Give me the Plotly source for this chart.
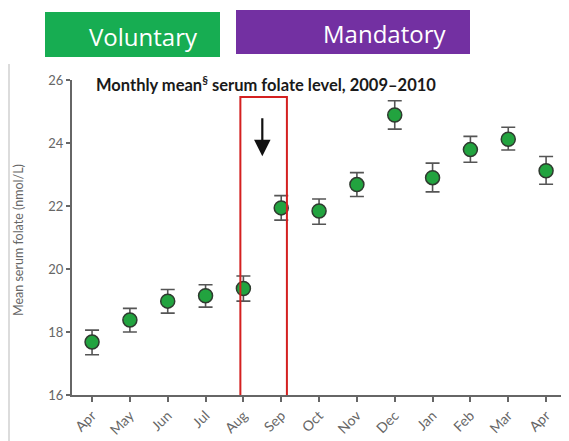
import plotly.graph_objects as go

months = ["Apr", "May", "Jun", "Jul", "Aug", "Sep", "Oct", "Nov", "Dec", "Jan", "Feb", "Mar", "Apr"]
mean_folate = [17.68, 18.38, 18.98, 19.15, 19.38, 21.94, 21.84, 22.68, 24.89, 22.90, 23.79, 24.12, 23.12]
err_upper = [0.38, 0.37, 0.37, 0.35, 0.40, 0.39, 0.38, 0.38, 0.45, 0.46, 0.42, 0.38, 0.45]
err_lower = [0.40, 0.38, 0.38, 0.36, 0.40, 0.39, 0.42, 0.38, 0.45, 0.45, 0.40, 0.34, 0.43]
y_ticks = [16, 18, 20, 22, 24, 26]
phase_labels = ["Voluntary", "Mandatory"]

x_idx = list(range(len(months)))

# page body has an 8px margin, so the figure is drawn at (8, 8)
OFF = 8
W, H = 569 - OFF, 441 - OFF
ML, MR, MT, MB = 72 - OFF, 4, 80 - OFF, 46
PW, PH = W - ML - MR, H - MT - MB


def px(x):
    # x given in reference-screen pixels
    return (x - OFF - ML) / PW


def py(y):
    return (H - MB - (y - OFF)) / PH


fig = go.Figure()
fig.add_trace(go.Scatter(
    x=x_idx, y=mean_folate, mode="markers",
    marker=dict(size=14, color="#22a33f", line=dict(color="#2f3a2f", width=1.5)),
    error_y=dict(type="data", symmetric=False, array=err_upper, arrayminus=err_lower,
                 color="#555555", thickness=1.6, width=7),
    showlegend=False, hoverinfo="skip",
))

shapes = [
    dict(type="rect", xref="x", yref="y", x0=3.92, x1=5.15, y0=15.95, y1=25.46,
         line=dict(color="#d42020", width=2), fillcolor="rgba(0,0,0,0)"),
    dict(type="rect", xref="paper", yref="paper", x0=px(45), x1=px(220), y0=py(57), y1=py(12),
         line=dict(width=0), fillcolor="#17ad52", layer="above"),
    dict(type="rect", xref="paper", yref="paper", x0=px(236), x1=px(470), y0=py(54), y1=py(10),
         line=dict(width=0), fillcolor="#7330a2", layer="above"),
    dict(type="line", xref="paper", yref="paper", x0=px(9), x1=px(9), y0=py(441), y1=py(64),
         line=dict(color="#d0d0d0", width=1.5)),
]

annotations = [
    dict(text=phase_labels[0], xref="paper", yref="paper", x=px(143), y=py(36),
         showarrow=False, font=dict(size=24, color="white", family="Open Sans"),
         xanchor="center", yanchor="middle"),
    dict(text=phase_labels[1], xref="paper", yref="paper", x=px(384), y=py(33),
         showarrow=False, font=dict(size=24, color="white", family="Open Sans"),
         xanchor="center", yanchor="middle"),
    dict(text="<b>Monthly mean<sup>§</sup> serum folate level, 2009–2010</b>",
         xref="paper", yref="paper", x=px(94), y=py(84), showarrow=False,
         font=dict(size=16.5, color="#1a1a1a", family="Lato"), xanchor="left", yanchor="middle"),
    dict(text="Mean serum folate (nmol/L)", xref="paper", yref="paper", x=px(18), y=py(240),
         showarrow=False, textangle=-90, font=dict(size=12.5, color="#666666", family="Lato"),
         xanchor="center", yanchor="middle"),
    dict(x=4.5, y=23.58, ax=4.5, ay=24.83, xref="x", yref="y", axref="x", ayref="y",
         text="", showarrow=True, arrowhead=2, arrowsize=1.5, arrowwidth=2.2,
         arrowcolor="#111111"),
]

fig.update_layout(
    width=W, height=H,
    margin=dict(l=ML, r=MR, t=MT, b=MB),
    paper_bgcolor="white", plot_bgcolor="white",
    shapes=shapes, annotations=annotations,
    font=dict(family="Lato", color="#666666"),
    xaxis=dict(range=[-0.53, 12.5], tickmode="array", tickvals=x_idx, ticktext=months,
               tickangle=-45, showgrid=False, zeroline=False, showline=True,
               linecolor="#666666", linewidth=2, ticks="outside", ticklen=5,
               tickcolor="#666666", tickwidth=1.5, tickfont=dict(size=14, color="#666666")),
    yaxis=dict(range=[16, 26], tickvals=y_ticks, showgrid=False, zeroline=False,
               showline=True, linecolor="#666666", linewidth=2, ticks="outside",
               ticklen=4, tickcolor="#666666", tickwidth=1.5,
               tickfont=dict(size=13, color="#666666")),
)

fig.write_html("out.html")
